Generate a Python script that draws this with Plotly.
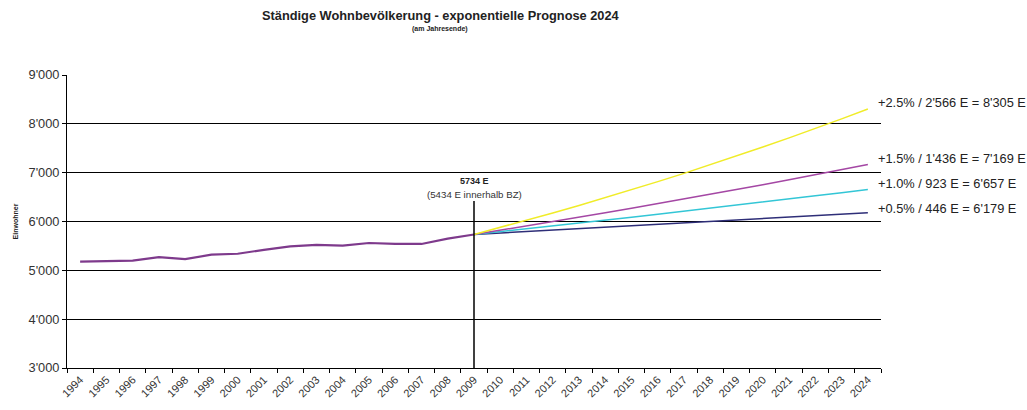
import plotly.graph_objects as go

years = [str(y) for y in range(1994, 2025)]
hist_years = [str(y) for y in range(1994, 2010)]
hist_values = [5180, 5195, 5200, 5270, 5230, 5320, 5340, 5420, 5490, 5520, 5505, 5560, 5540, 5540, 5650, 5734]

fc_years = [str(y) for y in range(2009, 2025)]
fc_25 = [5734, 5877, 6024, 6175, 6329, 6487, 6650, 6816, 6986, 7161, 7340, 7524, 7712, 7904, 8102, 8305]
fc_15 = [5734, 5820, 5907, 5996, 6086, 6177, 6270, 6364, 6459, 6556, 6655, 6754, 6856, 6959, 7063, 7169]
fc_10 = [5734, 5791, 5849, 5908, 5967, 6026, 6087, 6148, 6209, 6271, 6334, 6397, 6461, 6526, 6591, 6657]
fc_05 = [5734, 5763, 5791, 5820, 5850, 5879, 5908, 5938, 5967, 5997, 6027, 6057, 6088, 6118, 6149, 6179]

labels = ["+2.5% / 2'566 E = 8'305 E", "+1.5% / 1'436 E = 7'169 E",
          "+1.0% / 923 E = 6'657 E", "+0.5% / 446 E = 6'179 E"]
label_y = [8430, 7300, 6770, 6276]

FONT = "Liberation Sans, Arial, sans-serif"

fig = go.Figure()
series = [
    (fc_05, "#2E2E78"),
    (fc_10, "#33C6D6"),
    (fc_15, "#A447A4"),
    (fc_25, "#F0EC28"),
]
for vals, col in series:
    fig.add_trace(go.Scatter(x=fc_years, y=vals, mode="lines",
                             line=dict(color=col, width=1.5), showlegend=False,
                             hoverinfo="x+y"))
fig.add_trace(go.Scatter(x=hist_years, y=hist_values, mode="lines",
                         line=dict(color="#7E3A8C", width=2.2), showlegend=False))

# vertical marker line at 2009
idx2009 = years.index("2009")
fig.add_shape(type="line", xref="x", yref="y", x0=idx2009, x1=idx2009,
              y0=3000, y1=6420, line=dict(color="black", width=1.5))

annotations = [
    dict(x=idx2009, y=6830, xref="x", yref="y", text="<b>5734 E</b>", showarrow=False,
         font=dict(size=9, color="#222", family=FONT)),
    dict(x=idx2009, y=6545, xref="x", yref="y", text="(5434 E innerhalb BZ)", showarrow=False,
         font=dict(size=9.7, color="#333", family=FONT)),
    dict(x=0.5, y=1.0, xref="paper", yref="paper", yanchor="bottom",
         text="<b>Ständige Wohnbevölkerung - exponentielle Prognose 2024</b>",
         showarrow=False, yshift=50, xshift=-33,
         font=dict(size=12.8, color="#222", family=FONT)),
    dict(x=0.5, y=1.0, xref="paper", yref="paper", yanchor="bottom",
         text="<b>(am Jahresende)</b>", showarrow=False, yshift=40, xshift=-34,
         font=dict(size=7, color="#222", family=FONT)),
]
for t, yv in zip(labels, label_y):
    annotations.append(dict(x=1.0, y=yv, xref="paper", yref="y", text=t,
                            xanchor="left", showarrow=False, xshift=-5,
                            font=dict(size=12.8, color="#222", family=FONT)))

fig.update_layout(
    width=1027, height=410,
    margin=dict(l=67, r=146, t=75, b=42, autoexpand=False),
    paper_bgcolor="white", plot_bgcolor="white",
    separators=".'",
    font=dict(family=FONT, size=10, color="#333"),
    annotations=annotations,
    xaxis=dict(type="category", categoryorder="array", categoryarray=years,
               range=[-0.5, len(years) - 0.5],
               tickmode="array", tickvals=years, ticktext=years,
               tickson="boundaries", ticks="outside", ticklen=4, tickcolor="black",
               tickangle=-45, showgrid=False, showline=True, linecolor="black",
               linewidth=1, tickfont=dict(size=11, color="#333", family=FONT)),
    yaxis=dict(range=[3000, 9000], dtick=1000, tick0=3000, tickformat=",d",
               showgrid=True, gridcolor="black", gridwidth=1,
               ticks="outside", ticklen=4, tickcolor="black",
               showline=True, linecolor="black", linewidth=1, zeroline=False,
               tickfont=dict(size=12.8, color="#333", family=FONT),
               title=dict(text="<b>Einwohner</b>", font=dict(size=7, color="#222", family=FONT),
                          standoff=9)),
)

# remove the default 8px page margin so the figure fills the window exactly
fig.write_html("out.html", config={"displayModeBar": False},
               post_script="document.body.style.margin='0';")
